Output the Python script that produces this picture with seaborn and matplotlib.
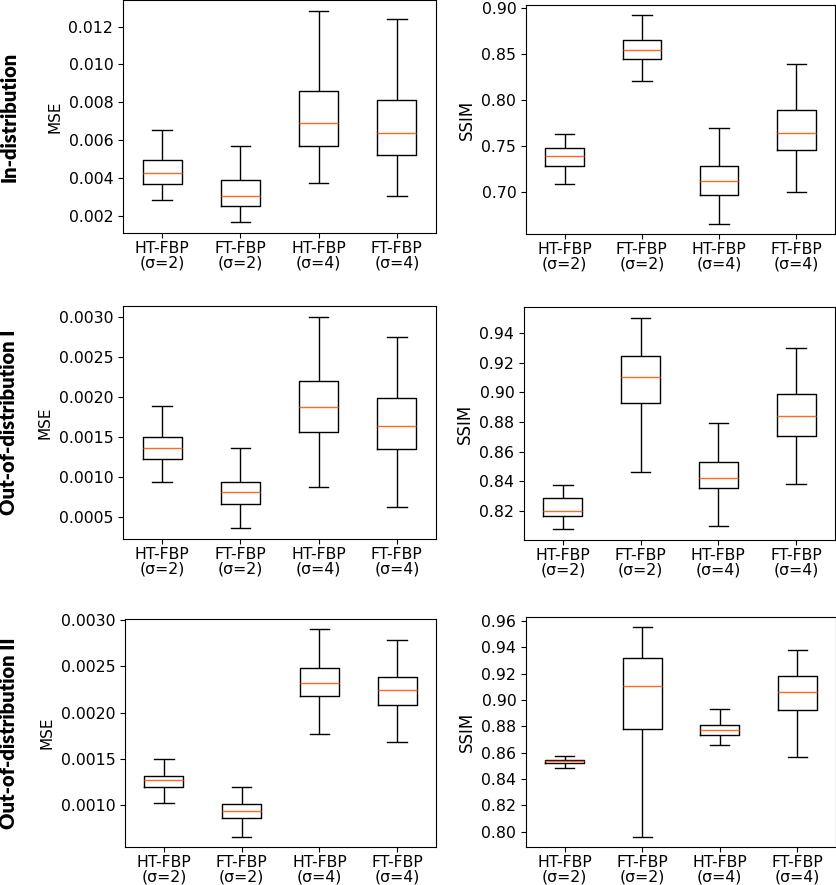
import numpy as np
import pandas as pd
import matplotlib
matplotlib.use('Agg')
import matplotlib.pyplot as plt
from matplotlib.ticker import MultipleLocator
import seaborn as sns


methods = ['HT-FBP\n(σ=2)', 'FT-FBP\n(σ=2)', 'HT-FBP\n(σ=4)', 'FT-FBP\n(σ=4)']
rows = ['In-distribution', 'Out-of-distribution I', 'Out-of-distribution II']

# per method: lower whisker, q1, median, q3, upper whisker
mse_in = [[0.00286, 0.00370, 0.00428, 0.00495, 0.00653],
          [0.00168, 0.00256, 0.00309, 0.00389, 0.00572],
          [0.00376, 0.00568, 0.00691, 0.00861, 0.01284],
          [0.00309, 0.00523, 0.00639, 0.00814, 0.01238]]
ssim_in = [[0.7097, 0.7284, 0.7395, 0.7485, 0.7636],
           [0.8207, 0.8448, 0.8545, 0.8650, 0.8922],
           [0.6662, 0.6971, 0.7122, 0.7284, 0.7696],
           [0.7003, 0.7459, 0.7650, 0.7890, 0.8397]]
mse_ood1 = [[0.00094, 0.00123, 0.00136, 0.00150, 0.00189],
            [0.00036, 0.00066, 0.00082, 0.00094, 0.00136],
            [0.00087, 0.00156, 0.00187, 0.00220, 0.00300],
            [0.00063, 0.00135, 0.00164, 0.00198, 0.00274]]
ssim_ood1 = [[0.8076, 0.8164, 0.8198, 0.8290, 0.8375],
             [0.8465, 0.8930, 0.9103, 0.9247, 0.9504],
             [0.8098, 0.8353, 0.8420, 0.8530, 0.8793],
             [0.8382, 0.8708, 0.8838, 0.8991, 0.9296]]
mse_ood2 = [[0.00102, 0.00120, 0.00127, 0.00132, 0.00150],
            [0.00066, 0.00086, 0.00094, 0.00101, 0.00120],
            [0.00177, 0.00218, 0.00232, 0.00248, 0.00290],
            [0.00168, 0.00208, 0.00224, 0.00238, 0.00279]]
ssim_ood2 = [[0.8484, 0.8522, 0.8537, 0.8547, 0.8575],
             [0.7962, 0.8778, 0.9106, 0.9319, 0.9552],
             [0.8661, 0.8732, 0.8772, 0.8810, 0.8932],
             [0.8568, 0.8922, 0.9061, 0.9180, 0.9377]]

panels = [(mse_in, ssim_in), (mse_ood1, ssim_ood1), (mse_ood2, ssim_ood2)]
ssim_steps = [0.05, 0.02, 0.02]

# axes boxes in pixels: left, top, right, bottom
boxes = [[(123, 0, 436, 233), (526, 5, 835, 234)],
         [(123, 306, 436, 539), (524, 307, 835, 540)],
         [(125, 619, 436, 847), (526, 617, 836, 847)]]

W, H = 837, 885


def draw(ax, summary, ylabel, size):
    df = pd.DataFrame({'method': np.repeat(methods, 5), 'value': np.ravel(summary)})
    sns.boxplot(data=df, x='method', y='value', order=methods, ax=ax,
                whis=(0, 100), width=0.5, fill=False, color='black',
                linecolor='black', linewidth=1, showfliers=False,
                medianprops={'color': '#ff6a20', 'linewidth': 1})
    ax.set_xlabel('')
    ax.set_ylabel(ylabel, fontsize=size)
    ax.tick_params(labelsize=11.3)
    ax.tick_params(axis='x', pad=2)
    for lab in ax.get_xticklabels():
        lab.set_linespacing(1.0)


def main():
    fig = plt.figure(figsize=(W / 100, H / 100), dpi=100)

    for r, (mse, ssim) in enumerate(panels):
        for c, (summary, name, size) in enumerate([(mse, 'MSE', 11), (ssim, 'SSIM', 12)]):
            x0, y0, x1, y1 = boxes[r][c]
            ax = fig.add_axes([x0 / W, 1 - y1 / H, (x1 - x0) / W, (y1 - y0) / H])
            draw(ax, summary, name, size)
            if c == 1:
                ax.yaxis.set_major_locator(MultipleLocator(ssim_steps[r]))

        x0, y0, x1, y1 = boxes[r][0]
        fig.text(9 / W, 1 - (y0 + y1) / 2 / H, rows[r], rotation=90,
                 ha='center', va='center', fontsize=14.5, fontweight='heavy',
                 family=['Lato', 'DejaVu Sans'])

    fig.savefig('out.png', dpi=100)


if __name__ == '__main__':
    main()
